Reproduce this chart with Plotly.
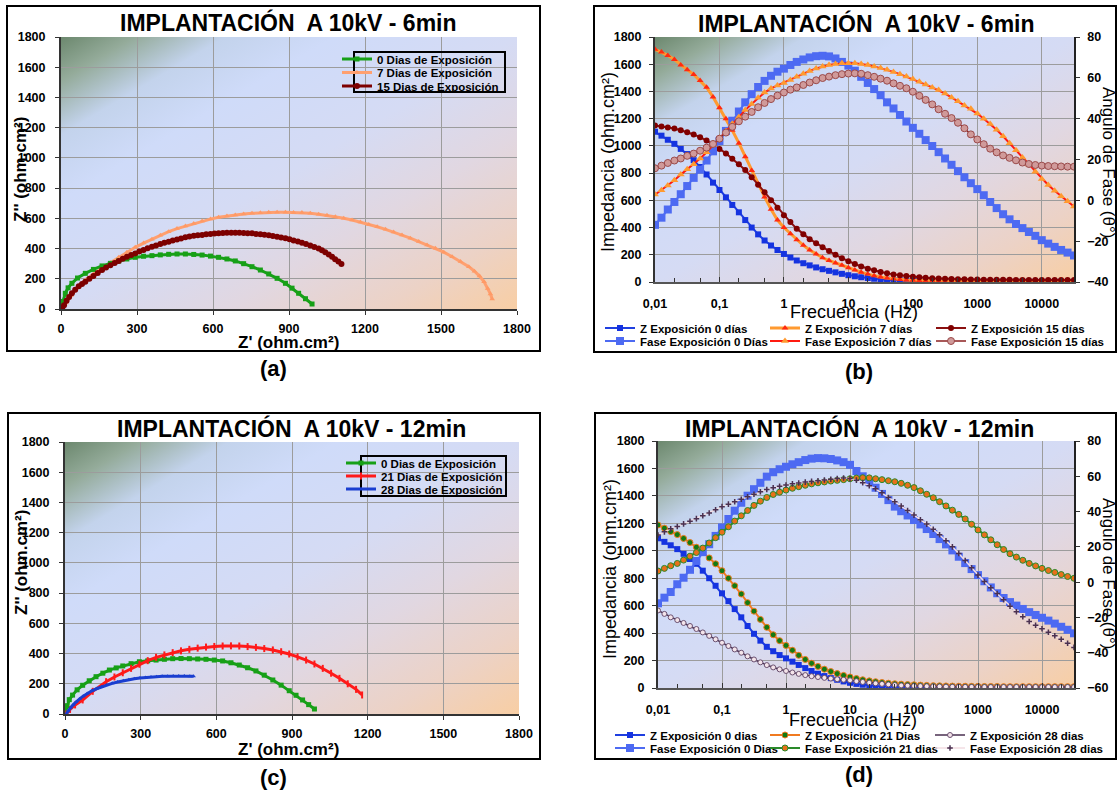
import base64
import plotly.graph_objects as go

W, H = 1118, 792
FONT = "Arial, Liberation Sans, sans-serif"
GRID = "#9c9c9c"
AXIS = "#333333"


def px(x):
    return x / W


def py(y):
    return 1 - y / H


# ---------------- Nyquist, implantation 6 min ----------------
NYQ6_0D_RE = [0, 8, 17, 28, 43, 65, 96, 128, 162, 195, 228, 260, 293, 326, 359, 392, 425, 458, 491,
              524, 557, 590, 622, 655, 688, 721, 754, 787, 820, 853, 886, 912, 938, 965, 991]
NYQ6_0D_IM = [5, 50, 104, 140, 170, 205, 236, 262, 285, 302, 318, 331, 342, 349, 353, 358, 362, 364, 364,
              361, 357, 350, 342, 331, 318, 300, 280, 258, 232, 203, 170, 138, 104, 68, 33]

NYQ6_7D_RE = [8, 20, 40, 65, 96, 128, 162, 195, 228, 260, 293, 326, 359, 392, 425, 458, 491, 524, 557,
              590, 622, 655, 688, 721, 754, 787, 820, 853, 886, 918, 951, 984, 1017, 1050, 1083, 1116,
              1149, 1182, 1215, 1248, 1281, 1313, 1346, 1379, 1412, 1445, 1478, 1511, 1544, 1577, 1610,
              1632, 1652, 1670, 1684, 1695, 1702]
NYQ6_7D_IM = [2, 40, 90, 140, 192, 232, 269, 306, 342, 376, 408, 436, 461, 488, 512, 532, 549, 566, 582,
              595, 607, 615, 622, 628, 633, 637, 640, 641, 640, 639, 638, 633, 627, 620, 611, 601,
              589, 575, 560, 544, 527, 509, 490, 469, 446, 424, 402, 376, 346, 315, 280,
              250, 218, 180, 135, 100, 66]

NYQ6_15D_RE = [5, 12, 22, 32, 43, 56, 70, 83, 96, 112, 128, 145, 162, 178, 195, 212, 228, 244, 260, 277,
               293, 309, 326, 342, 359, 375, 392, 408, 425, 441, 458, 474, 491, 507, 524, 540, 557, 573,
               590, 606, 622, 639, 655, 672, 688, 704, 721, 737, 754, 770, 787, 803, 820, 836, 853, 869,
               886, 902, 918, 935, 951, 967, 984, 1000, 1017, 1030, 1043, 1057, 1070, 1082, 1095, 1107]
NYQ6_15D_IM = [0, 25, 55, 80, 104, 128, 150, 166, 181, 200, 218, 238, 258, 274, 290, 304, 318, 332, 345, 357,
               368, 380, 391, 402, 412, 421, 430, 438, 445, 453, 460, 467, 474, 480, 485, 488, 490, 494,
               497, 499, 501, 503, 504, 505, 505, 504, 503, 502, 501, 497, 494, 491, 488, 483, 478, 473,
               468, 461, 454, 447, 439, 430, 420, 411, 401, 388, 375, 360, 346, 330, 315, 298]

# ---------------- Nyquist, implantation 12 min ----------------
NYQ12_0D_RE = [0, 8, 17, 30, 48, 70, 96, 123, 150, 176, 203, 229, 262, 295, 328, 361, 394, 427, 460, 493,
               526, 559, 592, 625, 658, 691, 724, 757, 790, 824, 857, 889, 916, 942, 966, 989]
NYQ12_0D_IM = [5, 55, 95, 125, 160, 190, 220, 247, 270, 291, 305, 318, 333, 346, 352, 357, 362, 366, 367, 366,
               364, 362, 357, 351, 339, 324, 306, 285, 257, 225, 191, 154, 124, 93, 62, 33]

NYQ12_21D_RE = [5, 20, 40, 70, 110, 163, 196, 229, 262, 295, 328, 361, 394, 427, 460, 493, 526, 559, 592,
                625, 658, 691, 724, 757, 790, 824, 857, 889, 922, 956, 989, 1022, 1055, 1088, 1121, 1154, 1178]
NYQ12_21D_IM = [0, 30, 60, 93, 150, 214, 245, 273, 302, 329, 353, 375, 391, 406, 418, 428, 436, 443, 447,
                450, 451, 450, 446, 441, 433, 424, 412, 397, 378, 357, 331, 302, 270, 236, 200, 163, 126]

NYQ12_28D_RE = [5, 12, 22, 33, 44, 58, 72, 88, 105, 125, 145, 165, 187, 209, 231, 253, 275, 297, 319, 341,
                363, 385, 407, 429, 451, 473, 495, 510]
NYQ12_28D_IM = [0, 20, 42, 62, 80, 100, 118, 136, 152, 167, 180, 192, 203, 212, 220, 227, 233, 238, 242, 245,
                247, 249, 250, 251, 251, 251, 250, 250]

# ---------------- Bode sweep frequencies (Hz) ----------------
FREQ_HZ = [0.01, 0.0126, 0.0158, 0.02, 0.0251, 0.0316, 0.0398, 0.0501, 0.0631, 0.0794,
           0.1, 0.126, 0.158, 0.2, 0.251, 0.316, 0.398, 0.501, 0.631, 0.794,
           1, 1.26, 1.58, 2, 2.51, 3.16, 3.98, 5.01, 6.31, 7.94,
           10, 12.6, 15.8, 20, 25.1, 31.6, 39.8, 50.1, 63.1, 79.4,
           100, 126, 158, 200, 251, 316, 398, 501, 631, 794,
           1000, 1259, 1585, 1995, 2512, 3162, 3981, 5012, 6310, 7943,
           10000, 12589, 15849, 19953, 25119, 31623]

# ---------------- Bode, implantation 6 min ----------------
Z6_0D = [1104, 1075, 1045, 1015, 978, 940, 895, 845, 790, 730,
         676, 622, 566, 512, 455, 400, 350, 305, 268, 235,
         206, 180, 158, 138, 122, 107, 94, 82, 71, 60,
         50, 42, 35, 29, 24, 20, 17, 14, 12, 10,
         8, 7, 6, 5, 4.5, 4, 3.5, 3, 3, 2.5,
         2.5, 2, 2, 2, 2, 2, 2, 2, 2, 2,
         2, 2, 2, 2, 2, 2]
PH6_0D = [-12, -8.5, -4.5, -0.8, 3, 7, 11, 15, 19.5, 24,
          29, 34, 39, 43.5, 48, 52, 55.5, 58.5, 61, 63,
          64.5, 66.3, 67.8, 69, 70, 70.6, 70.8, 70.5, 69.5, 67.8,
          66, 63.5, 60.5, 57.5, 54.5, 51.5, 48, 45, 41.8, 38.6,
          35.5, 32.6, 29.5, 26.6, 23.6, 20.5, 17.4, 14.3, 11.3, 8.4,
          5.5, 2.5, -0.8, -3.8, -6.8, -9.3, -11.6, -13.6, -15.5, -17.4,
          -19.5, -21.2, -22.8, -24.3, -25.6, -27]
Z6_7D = [1710, 1690, 1665, 1635, 1595, 1560, 1525, 1480, 1430, 1360,
         1280, 1200, 1115, 1020, 921, 820, 720, 625, 535, 455,
         400, 355, 310, 270, 235, 205, 178, 158, 140, 123,
         105, 88, 72, 58, 46, 37, 30, 24, 19, 15,
         12, 10, 8, 7, 6, 5, 5, 4, 4, 4,
         4, 4, 4, 4, 4, 4, 4, 4, 4, 4,
         4, 4, 4, 4, 4, 4]
PH6_7D = [2.8, 5, 7.3, 9.8, 12.6, 15.2, 17.7, 20.5, 23.5, 27,
          30.5, 34, 37.5, 40.8, 44.2, 47.2, 50.2, 52.8, 54.8, 56.3,
          57.5, 59, 60.5, 62, 63.4, 64.6, 65.6, 66.3, 66.8, 67.1,
          67.2, 67.1, 66.8, 66.3, 65.6, 64.8, 63.9, 62.9, 61.8, 60.6,
          59.4, 58.1, 56.7, 55.3, 54, 52.3, 50.4, 48.5, 46.5, 44.8,
          42.5, 40, 37.4, 34.6, 31.4, 28, 24.5, 21, 17.5, 14,
          10.5, 7.5, 4.7, 2, -0.5, -3]
Z6_15D = [1149, 1143, 1136, 1128, 1115, 1100, 1084, 1064, 1040, 1012,
          978, 945, 905, 865, 823, 770, 715, 660, 600, 545,
          490, 440, 392, 350, 315, 285, 255, 228, 200, 175,
          152, 132, 114, 98, 86, 74, 64, 56, 50, 44,
          39, 35, 31, 28, 26, 24, 22, 21, 20, 19,
          18, 17, 17, 16, 16, 16, 15, 15, 15, 15,
          15, 15, 15, 15, 15, 15]
PH6_15D = [15.7, 17, 18.3, 19.5, 20.5, 21.8, 22.9, 24.3, 25.8, 27.6,
           30.2, 33.2, 36, 38.7, 41, 43.3, 45.6, 47.7, 49.6, 51.3,
           52.8, 54.2, 55.3, 56.5, 57.7, 58.8, 59.9, 60.6, 61.3, 61.8,
           62.1, 62.2, 62.0, 61.3, 60.5, 59.6, 58.6, 57.3, 56.1, 54.9,
           53.2, 51.2, 49.2, 47, 44.6, 42.4, 40.3, 38, 35.3, 32.3,
           29.8, 27.5, 25.3, 23.5, 22, 20.8, 19.6, 18.5, 17.8, 17.3,
           17, 16.8, 16.7, 16.6, 16.5, 16.5]

# ---------------- Bode, implantation 12 min ----------------
Z12_0D = [1091, 1065, 1040, 1012, 978, 940, 905, 855, 800, 745,
          690, 633, 575, 515, 452, 395, 345, 300, 268, 240,
          216, 192, 168, 145, 124, 104, 87, 72, 60, 48,
          38, 30, 24, 19, 15, 12, 10, 8, 7, 6,
          5, 4, 4, 3, 3, 3, 3, 2, 2, 2,
          2, 2, 2, 2, 2, 2, 2, 2, 2, 2,
          2, 2, 2, 2, 2, 2]
PH12_0D = [-12, -8.8, -5.6, -1.2, 2.5, 7, 12, 17, 21.5, 26.2,
           31, 35.8, 40.5, 45, 49, 52.7, 56.3, 59.8, 62.3, 64,
           65.4, 66.8, 68, 69.2, 70, 70.3, 70.2, 69.8, 69, 68,
           66.5, 63, 60, 56.8, 53.5, 50, 46.5, 42.8, 40.2, 37.8,
           35.2, 32.7, 30.1, 27.3, 24.4, 21.4, 18, 14.4, 10.8, 7.4,
           4, 0.5, -3, -6.3, -9, -11.3, -13.3, -15.2, -17, -18.6,
           -20.2, -21.8, -23.5, -25.3, -27, -29]
Z12_21D = [1188, 1165, 1140, 1118, 1090, 1060, 1026, 990, 948, 905,
           855, 800, 745, 685, 622, 560, 500, 442, 388, 345,
           310, 275, 238, 208, 180, 157, 137, 120, 105, 92,
           80, 69, 60, 52, 46, 40, 35, 31, 28, 25,
           23, 21, 19, 17, 16, 15, 14, 13, 13, 12,
           12, 11, 11, 11, 10, 10, 10, 10, 10, 10,
           10, 10, 10, 10, 10, 10]
PH12_21D = [6.3, 7.8, 9.3, 10.6, 12.5, 14.7, 16.8, 19.3, 22.2, 25.2,
            28.3, 31.4, 34.6, 37.6, 40.6, 43.5, 45.9, 48.0, 49.7, 51,
            52.2, 53.2, 54.1, 54.9, 55.7, 56.3, 56.8, 57.3, 57.7, 58.1,
            58.6, 59, 59.2, 59.1, 58.6, 58.1, 57.5, 56.9, 56, 54.9,
            53.6, 51.8, 49.8, 47.8, 45.6, 43.2, 40.8, 38.4, 35.8, 32.8,
            29.6, 26.8, 24, 21.2, 18.5, 16.1, 14.2, 12.4, 10.6, 9.2,
            7.8, 6.6, 5.5, 4.3, 3.2, 2.2]
Z12_28D = [565, 540, 515, 495, 474, 452, 430, 405, 380, 355,
           330, 306, 281, 257, 231, 208, 187, 167, 150, 136,
           124, 113, 103, 94, 86, 80, 74, 69, 64, 60,
           56, 50, 44, 38, 34, 30, 26, 22, 19, 17,
           15, 14, 13, 12, 11, 10, 9, 9, 8, 8,
           8, 7, 7, 7, 7, 7, 7, 7, 7, 7,
           7, 7, 7, 7, 7, 7]
PH12_28D = [26.7, 28.5, 30.2, 31.5, 33.0, 34.5, 36.0, 37.6, 39.2, 41,
            42.8, 44.2, 45.6, 47, 48.4, 49.8, 51.2, 52.5, 53.5, 54.3,
            55.1, 55.7, 56.2, 56.7, 57.1, 57.5, 57.9, 58.3, 58.7, 59.0,
            58.7, 57.8, 56.4, 54.7, 52.9, 50.6, 48, 45.6, 43.1, 40.6,
            38, 35.4, 32.9, 30, 26.9, 23.5, 20, 16.3, 12.3, 8.2,
            4.0, 0.3, -3.2, -6.5, -10, -13.6, -16.8, -19.6, -22.3, -24.4,
            -26.4, -28.4, -30.4, -32.4, -34.6, -37]

# Tick labels of the frequency axis
FREQ_TICKS = [0.01, 0.1, 1, 10, 100, 1000, 10000]
FREQ_TICKTEXT = ["0,01", "0,1", "1", "10", "100", "1000", "10000"]

fig = go.Figure()


def add(x, y, name, xa, ya, legend, line_color, width, symbol, size, mcolor, mline=None, mlw=0):
    fig.add_trace(go.Scatter(
        x=x, y=y, name=name, xaxis=xa, yaxis=ya, legend=legend, mode="lines+markers",
        showlegend=True,
        line=dict(color=line_color, width=width),
        marker=dict(symbol=symbol, size=size, color=mcolor,
                    line=dict(color=mline or mcolor, width=mlw)),
        hoverinfo="skip"))


# (a) Nyquist 6 min
add(NYQ6_7D_RE, NYQ6_7D_IM, "7 Dias de Exposición", "x", "y", "legend2",
    "#ffa070", 3, "triangle-up", 5, "#ff9a66")
add(NYQ6_0D_RE, NYQ6_0D_IM, "0 Dias de Exposición", "x", "y", "legend",
    "#17a017", 3, "square", 5, "#17a017")
add(NYQ6_15D_RE, NYQ6_15D_IM, "15 Dias de Exposición", "x", "y", "legend3",
    "#7d0000", 3, "circle", 6, "#7d0000")

# (b) Bode 6 min
add(FREQ_HZ, Z6_0D, "Z Exposición 0 días", "x2", "y2", "legend4",
    "#1f3fe0", 2, "square", 6, "#1533e0")
add(FREQ_HZ, Z6_7D, "Z Exposición 7 días", "x2", "y2", "legend5",
    "#ff9a30", 3, "triangle-up", 6, "#ff2a10")
add(FREQ_HZ, Z6_15D, "Z Exposición 15 días", "x2", "y2", "legend6",
    "#8b1010", 2, "circle", 6, "#800000")
add(FREQ_HZ, PH6_0D, "Fase Exposición 0 Días", "x2", "y3", "legend7",
    "#4d6af2", 2, "square", 8, "#4d6af2")
add(FREQ_HZ, PH6_7D, "Fase Exposición 7 días", "x2", "y3", "legend8",
    "#ff1a10", 2, "triangle-up", 7, "#ff9a30")
add(FREQ_HZ, PH6_15D, "Fase Exposición 15 días", "x2", "y3", "legend9",
    "#8b2020", 1.5, "circle", 7, "#d09a9a", "#9a4a4a", 1)

# (c) Nyquist 12 min
add(NYQ12_0D_RE, NYQ12_0D_IM, "0 Dias de Exposición", "x3", "y4", "legend10",
    "#17a017", 3, "square", 5, "#17a017")
add(NYQ12_21D_RE, NYQ12_21D_IM, "21 Dias de Exposición", "x3", "y4", "legend11",
    "#ff1a1a", 3, "line-ns", 5, "#ff1a1a", "#ff1a1a", 2)
add(NYQ12_28D_RE, NYQ12_28D_IM, "28 Dias de Exposición", "x3", "y4", "legend12",
    "#1a3ed0", 3, "triangle-up", 4, "#1a3ed0")

# (d) Bode 12 min
add(FREQ_HZ, Z12_0D, "Z Exposición 0 dias", "x4", "y5", "legend13",
    "#1f3fe0", 2, "square", 6, "#1533e0")
add(FREQ_HZ, Z12_21D, "Z Exposición 21 Dias", "x4", "y5", "legend14",
    "#f07a20", 2, "circle", 6, "#137a13", "#f07a20", 1)
add(FREQ_HZ, Z12_28D, "Z Exposición 28 dias", "x4", "y5", "legend15",
    "#4a3050", 1.5, "circle", 5, "#f4e4ea", "#6a5070", 1)
add(FREQ_HZ, PH12_0D, "Fase Exposición 0 Dias", "x4", "y6", "legend16",
    "#4d6af2", 2, "square", 8, "#4d6af2")
add(FREQ_HZ, PH12_21D, "Fase Exposición 21 dias", "x4", "y6", "legend17",
    "#2a8a2a", 2, "circle", 6, "#e8701a", "#2a8a2a", 1)
add(FREQ_HZ, PH12_28D, "Fase Exposición 28 dias", "x4", "y6", "legend18",
    "#f2dde2", 1.5, "cross-thin", 4, "#4a3050", "#4a3050", 1.5)

# ---------------- axes ----------------
TICKFONT = dict(family=FONT, size=12.5, color="black", weight="bold")


def lin_axis(lo, hi, anchor, rng, dtick, standoff, grid=True):
    return dict(domain=[lo, hi], anchor=anchor, range=rng, tickmode="linear", tick0=0, dtick=dtick,
                showgrid=grid, gridcolor=GRID, gridwidth=1, zeroline=False,
                showline=True, linecolor=AXIS, linewidth=2, ticks="outside", ticklen=4,
                tickcolor=AXIS, tickfont=TICKFONT, ticklabelstandoff=standoff,
                automargin=False, fixedrange=True)


def log_axis(lo, hi, anchor):
    return dict(domain=[lo, hi], anchor=anchor, type="log", range=[-2, 4.5],
                tickmode="array", tickvals=FREQ_TICKS, ticktext=FREQ_TICKTEXT,
                showgrid=True, gridcolor=GRID, gridwidth=1, zeroline=False,
                showline=True, linecolor="#555555", linewidth=2, ticks="inside", ticklen=5,
                tickcolor=AXIS, tickfont=TICKFONT, ticklabelstandoff=9,
                minor=dict(ticks="inside", ticklen=4, tickcolor=AXIS, showgrid=False),
                automargin=False, fixedrange=True)


def phase_axis(anchor, over, rng):
    d = lin_axis(0, 1, anchor, rng, 20, 5, grid=False)
    d.pop("domain")
    d.update(overlaying=over, side="right", linewidth=1.5, linecolor="#222222")
    return d


layout = dict(
    width=W, height=H, margin=dict(l=0, r=0, t=0, b=0), showlegend=True,
    paper_bgcolor="white", plot_bgcolor="rgba(0,0,0,0)",
    font=dict(family=FONT, color="black"),
    xaxis=lin_axis(px(61), px(517), "y", [0, 1800], 300, 3),
    yaxis=lin_axis(py(309), py(37), "x", [0, 1800], 200, 7),
    xaxis2=log_axis(px(655), px(1074), "y2"),
    yaxis2=lin_axis(py(282), py(37), "x2", [0, 1800], 200, 5),
    yaxis3=phase_axis("x2", "y2", [-40, 80]),
    xaxis3=lin_axis(px(65), px(519), "y4", [0, 1800], 300, 3),
    yaxis4=lin_axis(py(714), py(442), "x3", [0, 1800], 200, 7),
    xaxis4=log_axis(px(658), px(1074), "y5"),
    yaxis5=lin_axis(py(688), py(441), "x4", [0, 1800], 200, 5),
    yaxis6=phase_axis("x4", "y5", [-60, 80]),
)


def legend_at(x_text, y_row):
    return dict(x=px(x_text - 40), y=py(y_row), xanchor="left", yanchor="middle",
                bgcolor="rgba(0,0,0,0)", borderwidth=0, itemwidth=30, tracegroupgap=0,
                font=dict(family=FONT, size=11.5, color="black", weight="bold"),
                itemclick=False, itemdoubleclick=False, visible=True)


LEGEND_POS = {
    "legend": (377, 59), "legend2": (377, 72.5), "legend3": (377, 86),
    "legend4": (640, 328), "legend5": (805, 328), "legend6": (971, 328),
    "legend7": (640, 341), "legend8": (805, 341), "legend9": (971, 341),
    "legend10": (381, 463), "legend11": (381, 476), "legend12": (381, 489),
    "legend13": (650, 735), "legend14": (805, 735), "legend15": (970, 735),
    "legend16": (650, 748), "legend17": (805, 748), "legend18": (970, 748),
}
for key, (lx, ly) in LEGEND_POS.items():
    layout[key] = legend_at(lx, ly)

fig.update_layout(**layout)

# ---------------- plot-area gradient fill ----------------
GRADIENT_SVG = (
    '<svg xmlns="http://www.w3.org/2000/svg" width="400" height="240" viewBox="0 0 400 240" '
    'preserveAspectRatio="none"><defs><linearGradient id="g" x1="0" y1="0" x2="1" y2="1">'
    '<stop offset="0" stop-color="#6c886e"/>'
    '<stop offset="0.08" stop-color="#94ab9a"/>'
    '<stop offset="0.18" stop-color="#c3d3ec"/>'
    '<stop offset="0.3" stop-color="#cfdbf9"/>'
    '<stop offset="0.5" stop-color="#d5dbf4"/>'
    '<stop offset="0.68" stop-color="#e1d7e1"/>'
    '<stop offset="0.85" stop-color="#ecd2c6"/>'
    '<stop offset="1" stop-color="#f8cea4"/>'
    '</linearGradient></defs><rect width="400" height="240" fill="url(#g)"/></svg>'
)
GRADIENT_URI = "data:image/svg+xml;base64," + base64.b64encode(GRADIENT_SVG.encode()).decode()

PLOT_AREAS = [(61, 37, 517, 309), (655, 37, 1074, 282), (65, 442, 519, 714), (658, 441, 1074, 688)]
fig.update_layout(images=[
    dict(source=GRADIENT_URI, xref="paper", yref="paper", x=px(l), y=py(t),
         sizex=(r - l) / W, sizey=(b - t) / H, xanchor="left", yanchor="top",
         sizing="stretch", layer="below")
    for (l, t, r, b) in PLOT_AREAS
])

# ---------------- frames ----------------
shapes = []
for (l, t, r, b) in [(7, 6, 540, 351), (594, 6, 1116, 352), (8, 413, 540, 759), (595, 413, 1116, 759)]:
    shapes.append(dict(type="rect", xref="paper", yref="paper", x0=px(l), x1=px(r), y0=py(b), y1=py(t),
                       line=dict(color="black", width=2), fillcolor="rgba(0,0,0,0)", layer="above"))
for (l, t, r, b) in [(354, 52, 505, 92), (361, 456, 506, 496)]:
    shapes.append(dict(type="rect", xref="paper", yref="paper", x0=px(l), x1=px(r), y0=py(b), y1=py(t),
                       line=dict(color="black", width=2), fillcolor="rgba(0,0,0,0)", layer="above"))
fig.update_layout(shapes=shapes)

# ---------------- texts ----------------
ann = []


def text(x, y, s, size, bold=False, angle=0):
    ann.append(dict(x=px(x), y=py(y), xref="paper", yref="paper", text=s, showarrow=False,
                    xanchor="center", yanchor="middle", textangle=angle,
                    font=dict(family=FONT, size=size, color="black",
                              weight="bold" if bold else "normal")))


text(288, 22, "IMPLANTACIÓN\u00a0 A 10kV - 6min", 23, True)
text(866, 23, "IMPLANTACIÓN\u00a0 A 10kV - 6min", 23, True)
text(291, 429, "IMPLANTACIÓN\u00a0 A 10kV - 12min", 23, True)
text(859, 429, "IMPLANTACIÓN\u00a0 A 10kV - 12min", 23, True)

text(273, 368, "(a)", 22, True)
text(859, 371, "(b)", 22, True)
text(273, 777, "(c)", 22, True)
text(859, 774, "(d)", 22, True)

text(288, 342, "Z' (ohm.cm²)", 17, True)
text(20, 170, "Z'' (ohm.cm²)", 17, True, -90)
text(288, 749, "Z' (ohm.cm²)", 17, True)
text(21, 563, "Z'' (ohm.cm²)", 17, True, -90)

text(608, 162, "Impedancia (ohm.cm²)", 18, False, -90)
text(1109, 162, "Angulo de Fase (θ°)", 17, False, 90)
text(854, 312, "Frecuencia (Hz)", 18)
text(610, 569, "Impedancia (ohm.cm²)", 18, False, -90)
text(1109, 573, "Angulo de Fase (θ°)", 17, False, 90)
text(853, 720, "Frecuencia (Hz)", 18)

fig.update_layout(annotations=ann)

fig.write_html("out.html")
